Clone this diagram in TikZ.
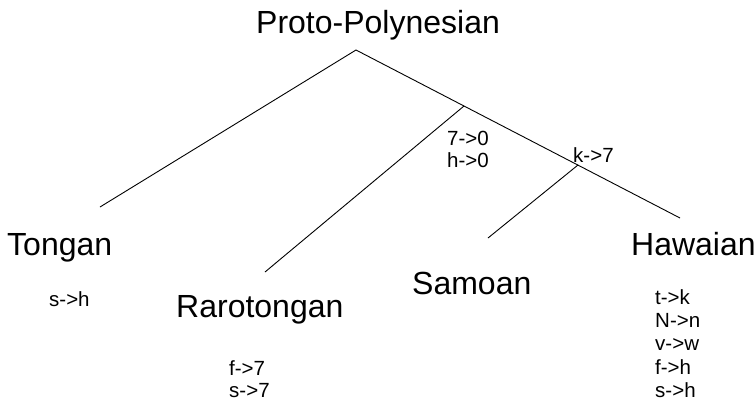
\documentclass[tikz,border=0pt]{standalone}
\usepackage{fontspec}
\setmainfont{Liberation Sans}
\begin{document}
\begin{tikzpicture}[x=1pt,y=-1pt,
  big/.style={font=\fontsize{32}{38}\selectfont, inner sep=0pt, anchor=base west},
  small/.style={font=\fontsize{20.5}{24}\selectfont, inner sep=0pt, anchor=base west},
  branch/.style={line width=0.9pt, black}]
\useasboundingbox (0,0) rectangle (756,400);
% branch points
\coordinate (root) at (356,50);
\coordinate (tEnd) at (100,207);
\coordinate (hEnd) at (680,218);
\coordinate (b1) at (464,106);
\coordinate (rEnd) at (265,272);
\coordinate (b2) at (578,165);
\coordinate (sEnd) at (488,238);
\draw[branch] (tEnd) -- (root) -- (hEnd);
\draw[branch] (b1) -- (rEnd);
\draw[branch] (b2) -- (sEnd);
% names
\node[big] (pp) at (256,33) {Proto-Polynesian};
\node[big] (tongan) at (7,255) {Tongan};
\node[big] (raro) at (176,317) {Rarotongan};
\node[big] (samoan) at (412,294) {Samoan};
\node[big] (haw) at (631,255) {Hawaian};
% changes
\node[small] (c1) at (447,145) {7->0};
\node[small] (c2) at (447,167) {h->0};
\node[small] (c3) at (573,162) {k->7};
\node[small] (t1) at (49,306) {s->h};
\node[small] (r1) at (229,375) {f->7};
\node[small] (r2) at (229,397) {s->7};
\node[small] (h1) at (655,304) {t->k};
\node[small] (h2) at (655,327) {N->n};
\node[small] (h3) at (655,350) {v->w};
\node[small] (h4) at (655,374) {f->h};
\node[small] (h5) at (655,397) {s->h};
\end{tikzpicture}
\end{document}
